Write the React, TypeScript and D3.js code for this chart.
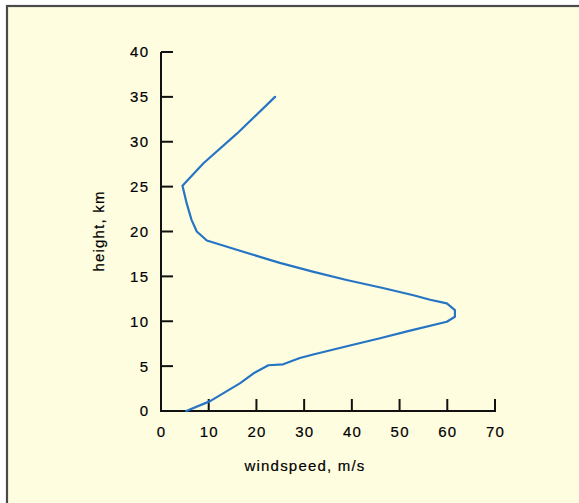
import React from "react";
import * as d3 from "d3";

const windspeed = [5.3, 10.3, 16.6, 19.4, 22.5, 25.6, 29.1, 31.9, 39.6, 45.9, 52.2, 59.9, 61.6, 61.6, 59.9, 56.4, 52.9, 46.5, 38.9, 32.0, 24.9, 16.9, 9.6, 7.5, 6.4, 5.4, 4.5, 8.9, 15.9, 23.9];
const height = [0, 1.1, 3.1, 4.2, 5.1, 5.2, 5.9, 6.3, 7.3, 8.1, 8.95, 9.95, 10.5, 11.25, 12.0, 12.4, 12.9, 13.7, 14.6, 15.5, 16.5, 17.8, 19.0, 20.0, 21.3, 23.1, 25.1, 27.6, 30.9, 35.0];
const xTicks = [0, 10, 20, 30, 40, 50, 60, 70];
const yTicks = [0, 5, 10, 15, 20, 25, 30, 35, 40];
const xTitle = "windspeed, m/s";
const yTitle = "height, km";

const W = 579, H = 503;
const x = d3.scaleLinear().domain([0, 70]).range([161, 495]);
const y = d3.scaleLinear().domain([0, 40]).range([411, 52]);

const font = "'Liberation Sans', Arial, Helvetica, sans-serif";
const ls = 1.2;

export default function App() {
  const pts = windspeed.map((w, i) => [w, height[i]] as [number, number]);
  const line = d3.line<[number, number]>().x(d => x(d[0])).y(d => y(d[1]));
  return (
    <svg width={W} height={H} style={{ position: "absolute", left: 0, top: 0 }}>
      <rect x={0} y={0} width={W} height={H} fill="#fff" />
      <rect x={7} y={6} width={W + 20} height={H + 20} fill="#FEFDE0" stroke="#4a4a4a" strokeWidth={2.2} />
      <line x1={x(0)} x2={x(0)} y1={y(40)} y2={y(0)} stroke="#111" strokeWidth={2} />
      {yTicks.map(t => (
        <g key={"y" + t}>
          <line x1={x(0)} x2={x(0) + 12} y1={y(t)} y2={y(t)} stroke="#111" strokeWidth={2} />
          <text x={x(0) - 13 + ls} y={y(t)} dy="0.36em" textAnchor="end" fontFamily={font} fontSize={15} letterSpacing={ls} fill="#000" stroke="#000" strokeWidth={0.2}>{t}</text>
        </g>
      ))}
      <line x1={x(0) - 1} x2={x(70) + 1} y1={y(0)} y2={y(0)} stroke="#111" strokeWidth={2} />
      {xTicks.map(t => (
        <g key={"x" + t}>
          <line x1={x(t)} x2={x(t)} y1={y(0)} y2={y(0) - 12} stroke="#111" strokeWidth={2} />
          <text x={x(t) + ls / 2} y={437} textAnchor="middle" fontFamily={font} fontSize={15} letterSpacing={ls} fill="#000" stroke="#000" strokeWidth={0.2}>{t}</text>
        </g>
      ))}
      <text x={305} y={471} textAnchor="middle" fontFamily={font} fontSize={15} letterSpacing={ls} fill="#000" stroke="#000" strokeWidth={0.2}>{xTitle}</text>
      <text transform={`translate(104,231) rotate(-90)`} textAnchor="middle" fontFamily={font} fontSize={15} letterSpacing={ls} fill="#000" stroke="#000" strokeWidth={0.2}>{yTitle}</text>
      <path d={line(pts) || ""} fill="none" stroke="#2674c4" strokeWidth={2.2} strokeLinejoin="round" strokeLinecap="round" />
    </svg>
  );
}
